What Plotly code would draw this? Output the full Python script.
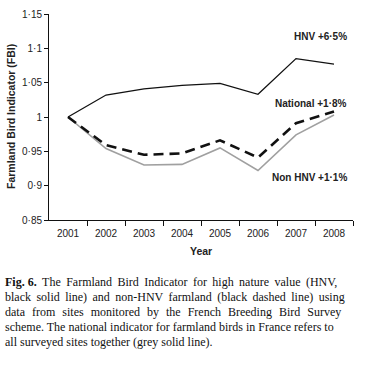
import plotly.graph_objects as go

years = [2001, 2002, 2003, 2004, 2005, 2006, 2007, 2008]
hnv = [1.000, 1.032, 1.041, 1.046, 1.049, 1.033, 1.085, 1.077]
national = [1.000, 0.959, 0.945, 0.947, 0.966, 0.941, 0.991, 1.008]
non_hnv = [1.000, 0.954, 0.930, 0.931, 0.955, 0.922, 0.974, 1.003]
y_ticks = [0.85, 0.9, 0.95, 1.0, 1.05, 1.1, 1.15]
y_tick_text = ["0·85", "0·9", "0·95", "1", "1·05", "1·1", "1·15"]
boundaries = [y + 0.5 for y in years]
series_labels = ["HNV +6·5%", "National +1·8%", "Non HNV +1·1%"]
caption_lines = [
    "<b>Fig. 6.</b> The Farmland Bird Indicator for high nature value (HNV,",
    "black solid line) and non-HNV farmland (black dashed line) using",
    "data from sites monitored by the French Breeding Bird Survey",
    "scheme. The national indicator for farmland birds in France refers to",
    "all surveyed sites together (grey solid line).",
]
# extra inter-word padding used to imitate the justified caption
caption_pad = ["\u2009", "\u2009", "\u00a0\u200a", "", ""]

fig = go.Figure()
fig.add_trace(go.Scatter(x=years, y=non_hnv, mode="lines",
                         line=dict(color="#a0a0a0", width=1.6), showlegend=False))
fig.add_trace(go.Scatter(x=years, y=national, mode="lines",
                         line=dict(color="#111", width=2.6, dash="10px,6px"), showlegend=False))
fig.add_trace(go.Scatter(x=years, y=hnv, mode="lines",
                         line=dict(color="#111", width=1.3), showlegend=False))
# invisible trace on the tick axis
fig.add_trace(go.Scatter(x=boundaries, y=[None]*len(boundaries), xaxis="x2",
                         showlegend=False, hoverinfo="skip"))

tickfont = dict(family="Liberation Sans, Arial, sans-serif", size=10, color="#222")
titlefont = dict(family="Liberation Sans, Arial, sans-serif", size=10.5, color="#222")
fig.update_layout(
    width=373, height=366,
    margin=dict(l=49, r=20, t=14, b=146),
    paper_bgcolor="white", plot_bgcolor="white",
    xaxis=dict(range=[2000.5, 2008.5], tickmode="array", tickvals=years,
               ticktext=[str(y) for y in years], ticks="", showgrid=False,
               zeroline=False, showline=True, linecolor="#111", linewidth=1,
               tickfont=tickfont, automargin=False, ticklabelstandoff=4),
    xaxis2=dict(range=[2000.5, 2008.5], overlaying="x", side="bottom",
                tickmode="array", tickvals=boundaries, ticktext=[""]*len(boundaries),
                ticks="outside", ticklen=5, tickcolor="#111", showgrid=False,
                zeroline=False, showline=False, automargin=False),
    yaxis=dict(range=[0.85, 1.15], tickmode="array", tickvals=y_ticks,
               ticktext=y_tick_text, ticks="outside", ticklen=4, tickcolor="#111",
               showgrid=False, zeroline=False, showline=True, linecolor="#111",
               linewidth=1, tickfont=tickfont, automargin=False),
)

fig.add_annotation(x=0, xref="paper", y=0.5, yref="paper",
                   text="<b>Farmland Bird Indicator (FBI)</b>", textangle=-90,
                   showarrow=False, xanchor="center", yanchor="middle",
                   xshift=-38, font=titlefont)
fig.add_annotation(x=0.5, xref="paper", y=0, yref="paper",
                   text="<b>Year</b>", showarrow=False, xanchor="center",
                   yanchor="middle", yshift=-31, font=titlefont)

lab_font = dict(family="Liberation Sans, Arial, sans-serif", size=10, color="#222")
label_pos = [(2008.4, 1.117), (2008.4, 1.020), (2008.4, 0.9125)]
for (lx, ly), txt in zip(label_pos, series_labels):
    fig.add_annotation(x=lx, y=ly, text="<b>" + txt + "</b>", showarrow=False,
                       xanchor="right", yanchor="middle", font=lab_font)

cap_font = dict(family="Liberation Serif, Times New Roman, serif", size=12, color="#111")
for i, line in enumerate(caption_lines):
    text = line.replace(" ", " " + caption_pad[i]) if caption_pad[i] else line
    text = text.replace("<b>Fig." + " " + caption_pad[i] + "6.</b>", "<b>Fig. 6.</b>")
    fig.add_annotation(x=0, xref="paper", y=0, yref="paper", text=text,
                       showarrow=False, xanchor="left", yanchor="middle",
                       xshift=-46, yshift=-62 - 15 * i, font=cap_font, align="left")

fig.write_html("out.html", config={"displayModeBar": False},
               post_script="document.body.style.margin='0';document.body.style.overflow='hidden';")
